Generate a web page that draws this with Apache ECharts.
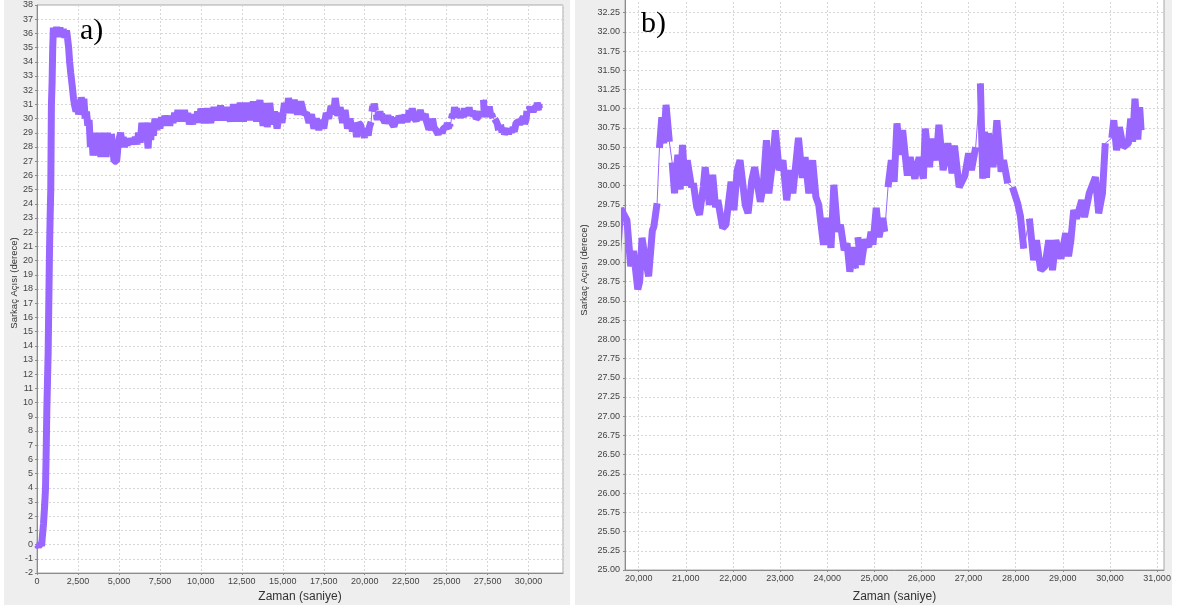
<!DOCTYPE html>
<html>
<head>
<meta charset="utf-8">
<script src="https://cdn.jsdelivr.net/npm/echarts@6/dist/echarts.min.js"></script>
<style>
html, body { margin: 0; padding: 0; background: #ffffff; }
#chart { width: 1188px; height: 612px; }
</style>
</head>
<body>
<div id="chart"></div>
<script>
// Sarkaç açısı kaydı: zaman (s) ve açı (derece), sıralı örnekler
const zaman = [
  0, 100, 200, 280, 330, 400, 470, 520, 560, 600, 640, 680, 720, 760, 800, 840, 860, 880, 920, 960,
  1000, 1100, 1200, 1300, 1400, 1500, 1600, 1700, 1800, 1870, 1930, 1990, 2060, 2150, 2230, 2300,
  2380, 2460, 2540, 2620, 2700, 2780, 2860, 2940, 3020, 3100, 3180, 3260, 3340, 3420, 3500, 3580,
  3660, 3740, 3820, 3900, 3980, 4060, 4140, 4220, 4300, 4380, 4460, 4540, 4620, 4700, 4780, 4860,
  4940, 5020, 5100, 5180, 5260, 5340, 5420, 5500, 5600, 5700, 5800, 5900, 6000, 6100, 6200, 6300,
  6400, 6500, 6600, 6700, 6780, 6860, 6940, 7020, 7100, 7200, 7300, 7400, 7500, 7600, 7700, 7800,
  7900, 8000, 8100, 8200, 8300, 8400, 8500, 8600, 8700, 8800, 8900, 9000, 9100, 9200, 9300, 9400,
  9500, 9600, 9700, 9800, 9900,
  10000, 10200, 10400, 10600, 10800, 11000, 11200, 11400, 11600, 11800, 12000, 12200, 12400, 12600,
  12800, 13000, 13200, 13400, 13600, 13800, 13950, 14050, 14200, 14350, 14500, 14650, 14800, 14950,
  15100, 15250, 15350, 15500, 15700, 15900, 16100, 16300, 16450, 16600, 16750, 16900, 17050, 17200,
  17350, 17500, 17650, 17800, 17950, 18100, 18200, 18350, 18500, 18650, 18800, 18950, 19100, 19250,
  19400, 19500, 19620,
  19750, 19830, 19890, 19980, 20020, 20070, 20120, 20210, 20240, 20290, 20320, 20390,
  20440, 20490, 20530, 20580, 20650,
  20710, 20760, 20830, 20880, 20930, 20980, 21030, 21120, 21160, 21230, 21290, 21370, 21410, 21500,
  21570, 21630, 21680, 21780, 21850, 21960, 22020, 22090, 22150, 22260, 22320, 22400, 22460, 22580,
  22640, 22710, 22760, 22830, 22900, 22980, 23060, 23140, 23220, 23270, 23390, 23470, 23530, 23610,
  23690, 23760, 23820, 23920, 24000, 24080, 24140, 24220, 24280, 24360, 24420, 24480, 24560, 24600,
  24650, 24720, 24800, 24880, 24930, 24970, 25040, 25100, 25180, 25220,
  25290, 25360, 25420, 25480, 25540, 25600, 25700, 25760, 25860, 25950, 26040, 26080, 26170, 26220,
  26310, 26370, 26460, 26560, 26650, 26700, 26800, 26920, 27000, 27060, 27150,
  27250, 27300, 27340, 27380, 27420, 27520, 27600, 27690, 27740, 27830,
  27930, 28040, 28100, 28170,
  28290, 28380, 28440, 28530, 28620, 28700, 28780, 28850, 28960, 29060, 29120, 29170, 29230, 29290,
  29400, 29460, 29560, 29690, 29760, 29840, 29900,
  30040, 30080, 30140, 30200, 30280, 30390, 30440, 30480, 30530, 30590, 30630, 30660
];
const aci = [
  0.0, -0.15, 0.1, -0.1, 0.6, 1.5, 2.8, 4.0, 6.5, 9.5, 11.5, 13.5, 17.0, 20.5, 23.0, 25.0, 28.0, 31.0, 32.5, 35.0,
  36.4, 35.8, 36.45, 35.75, 36.4, 35.8, 36.3, 35.7, 36.2, 35.6, 35.0, 34.0, 33.2, 32.3, 31.4, 30.9,
  30.5, 30.9, 30.3, 30.7, 31.5, 30.9, 31.4, 30.0, 30.5, 29.5, 29.9, 28.0, 29.0, 27.4, 28.9, 27.4,
  29.0, 27.5, 28.5, 27.3, 29.0, 27.4, 28.8, 27.3, 29.0, 28.0, 28.3, 28.9, 28.0, 27.0, 26.9, 27.0,
  28.0, 28.6, 29.0, 28.3, 28.7, 28.0, 28.5, 28.1, 28.6, 28.2, 28.6, 28.2, 28.7, 28.2, 29.0, 28.3,
  29.7, 28.8, 29.7, 29.0, 27.9, 29.6, 28.5, 29.7, 28.8, 30.0, 29.2, 29.9, 29.3, 30.1, 29.5, 30.2,
  29.6, 30.2, 29.5, 30.2, 29.7, 30.4, 29.8, 30.6, 29.9, 30.5, 29.8, 30.6, 29.8, 30.4, 29.6, 30.2,
  29.6, 30.3, 29.7, 30.5, 29.7,
  30.7, 29.7, 30.7, 29.7, 30.8, 29.9, 30.9, 29.9, 30.8, 29.8, 31.0, 29.8, 31.1, 29.8,
  31.1, 29.9, 31.2, 29.8, 31.3, 29.5, 31.1, 29.4, 31.1, 29.6, 30.5, 29.3, 30.4, 29.7,
  31.1, 30.4, 31.45, 30.4, 31.3, 30.3, 31.2, 30.3, 30.4, 29.7, 30.3, 29.3, 30.0, 29.2,
  29.9, 29.3, 30.4, 30.0, 30.9, 30.3, 31.45, 30.2, 30.8, 29.7, 30.6, 29.3, 30.0, 29.1,
  29.7, 28.7, 29.7,
  29.55, 28.95, 29.15, 28.65, 28.75, 29.32, 29.12, 28.82, 28.84, 29.42, 29.46, 29.77,
  30.49, 30.89, 30.55, 31.05, 30.57,
  30.30, 29.90, 30.40, 29.95, 30.53, 30.00, 30.33, 29.98, 30.03, 29.72, 29.62, 29.98, 30.24, 29.75,
  30.14, 29.72, 29.81, 29.45, 29.49, 30.05, 29.68, 30.20, 30.33, 29.75, 29.64, 30.07, 30.24, 29.79,
  29.98, 30.59, 29.90, 30.25, 30.72, 30.20, 30.33, 29.81, 30.20, 29.90, 30.62, 30.10, 30.37, 29.90,
  30.33, 29.85, 29.75, 29.23, 29.58, 29.19, 30.01, 29.40, 29.49, 29.16, 29.25, 28.88, 29.20, 28.92,
  29.33, 28.97, 29.30, 29.20, 29.40, 29.23, 29.71, 29.33, 29.58, 29.40,
  29.98, 30.33, 30.05, 30.81, 30.40, 30.72, 30.13, 30.37, 30.09, 30.37, 30.09, 30.74, 30.24, 30.61,
  30.33, 30.79, 30.20, 30.55, 30.16, 30.52, 29.98, 30.13, 30.42, 30.20, 30.50,
  31.33, 30.09, 30.70, 30.10, 30.68, 30.24, 30.85, 30.18, 30.33, 30.03,
  29.98, 29.77, 29.60, 29.18,
  29.57, 29.03, 29.29, 28.90, 28.95, 29.29, 28.90, 29.29, 29.05, 29.38, 29.08, 29.29, 29.68, 29.57,
  29.81, 29.59, 29.90, 30.11, 29.64, 29.90, 30.55,
  30.62, 30.85, 30.46, 30.76, 30.50, 30.55, 30.87, 30.57, 31.13, 30.60, 31.02, 30.72
];
// Ölçümün ani sıçrama yaptığı örnekler (bu zamanlardan önce ince bağlantı çizgisi kalır)
const sicramalar = [20440, 20710, 24650, 25290, 27250, 27930, 28290, 30040];

// Eksen etiketleri
const xEtiketB = [20000, 21000, 22000, 23000, 24000, 25000, 26000, 27000, 28000, 29000, 30000, 31000];

const RENK = '#9966ff';
const YAZI = '"Liberation Sans", Arial, sans-serif';

const noktalar = zaman.map((t, i) => [t, aci[i]]);
const sicramaSet = new Set(sicramalar);
const kalinVeri = [];
noktalar.forEach(p => {
  if (sicramaSet.has(p[0])) kalinVeri.push([p[0], '-']);
  kalinVeri.push(p);
});

const binlik = v => Math.round(v).toLocaleString('en-US');

function ortakEksen() {
  return {
    axisLine: { show: true, onZero: false, lineStyle: { color: '#8c8c8c', width: 1 } },
    axisTick: { show: true, length: 2, lineStyle: { color: '#8c8c8c' } },
    splitLine: { show: true, lineStyle: { color: '#d6d6d6', type: [2, 2], width: 1 } },
    axisLabel: { color: '#444', fontSize: 9, fontFamily: YAZI },
    nameTextStyle: { color: '#333', fontFamily: YAZI }
  };
}

function seriler(i) {
  return [
    {
      type: 'line', xAxisIndex: i, yAxisIndex: i, data: noktalar,
      showSymbol: false, symbol: 'none', silent: true, z: 2,
      lineStyle: { width: 1, color: RENK }
    },
    {
      type: 'line', xAxisIndex: i, yAxisIndex: i, data: kalinVeri,
      showSymbol: false, symbol: 'none', silent: true, z: 3, connectNulls: false,
      lineStyle: { width: 7, color: RENK, cap: 'butt', join: 'bevel' }
    }
  ];
}

const xa = ortakEksen(), ya = ortakEksen(), xb = ortakEksen(), yb = ortakEksen();

Object.assign(xa, {
  type: 'value', gridIndex: 0, min: 0, max: 32100, interval: 2500,
  name: 'Zaman (saniye)', nameLocation: 'middle', nameGap: 18
});
xa.axisLabel = Object.assign(xa.axisLabel, { margin: 4, formatter: binlik, showMaxLabel: false });
xa.nameTextStyle.fontSize = 12;

Object.assign(ya, {
  type: 'value', gridIndex: 0, min: -2, max: 38, interval: 1,
  name: 'Sarkaç Açısı (derece)', nameLocation: 'middle', nameGap: 18
});
ya.axisLabel = Object.assign(ya.axisLabel, { margin: 4, formatter: v => String(v) });
ya.nameTextStyle.fontSize = 9.5;
ya.nameTextStyle.padding = [0, 0, 0, 12];

Object.assign(xb, {
  type: 'value', gridIndex: 1, min: 19709, max: 31146,
  name: 'Zaman (saniye)', nameLocation: 'middle', nameGap: 21
});
xb.axisTick = Object.assign(xb.axisTick, { customValues: xEtiketB });
xb.axisLabel = Object.assign(xb.axisLabel, { margin: 4, formatter: binlik, customValues: xEtiketB });
xb.nameTextStyle.fontSize = 12;

Object.assign(yb, {
  type: 'value', gridIndex: 1, min: 25, max: 32.804, interval: 0.25,
  name: 'Sarkaç Açısı (derece)', nameLocation: 'middle', nameGap: 36
});
yb.axisLabel = Object.assign(yb.axisLabel, { margin: 5, formatter: v => v.toFixed(2), showMaxLabel: false });
yb.nameTextStyle.fontSize = 9.5;

const chart = echarts.init(document.getElementById('chart'), null, { renderer: 'canvas' });
chart.setOption({
  animation: false,
  backgroundColor: '#ffffff',
  grid: [
    { left: 37, top: 5, width: 526, height: 568, outerBoundsMode: 'none', show: true, backgroundColor: '#ffffff', borderColor: '#a8a8a8', borderWidth: 1 },
    { left: 625, top: -30, width: 539, height: 600, outerBoundsMode: 'none', show: true, backgroundColor: '#ffffff', borderColor: '#a8a8a8', borderWidth: 1 }
  ],
  xAxis: [xa, xb],
  yAxis: [ya, yb],
  series: seriler(0).concat(seriler(1)),
  graphic: {
    elements: [
      { type: 'rect', silent: true, z: -100, shape: { x: 4, y: 0, width: 566, height: 605 }, style: { fill: '#eeeeee' } },
      { type: 'rect', silent: true, z: -100, shape: { x: 575, y: 0, width: 597, height: 605 }, style: { fill: '#eeeeee' } },
      { type: 'rect', silent: true, z: 100, shape: { x: 1172, y: 0, width: 16, height: 612 }, style: { fill: '#ffffff' } },
      { type: 'text', silent: true, z: 100, style: { text: 'a)', x: 80, y: 31, fill: '#000', font: '30px "Liberation Serif", "Times New Roman", serif', verticalAlign: 'middle' } },
      { type: 'text', silent: true, z: 100, style: { text: 'b)', x: 641, y: 24, fill: '#000', font: '30px "Liberation Serif", "Times New Roman", serif', verticalAlign: 'middle' } }
    ]
  }
});
</script>
</body>
</html>
